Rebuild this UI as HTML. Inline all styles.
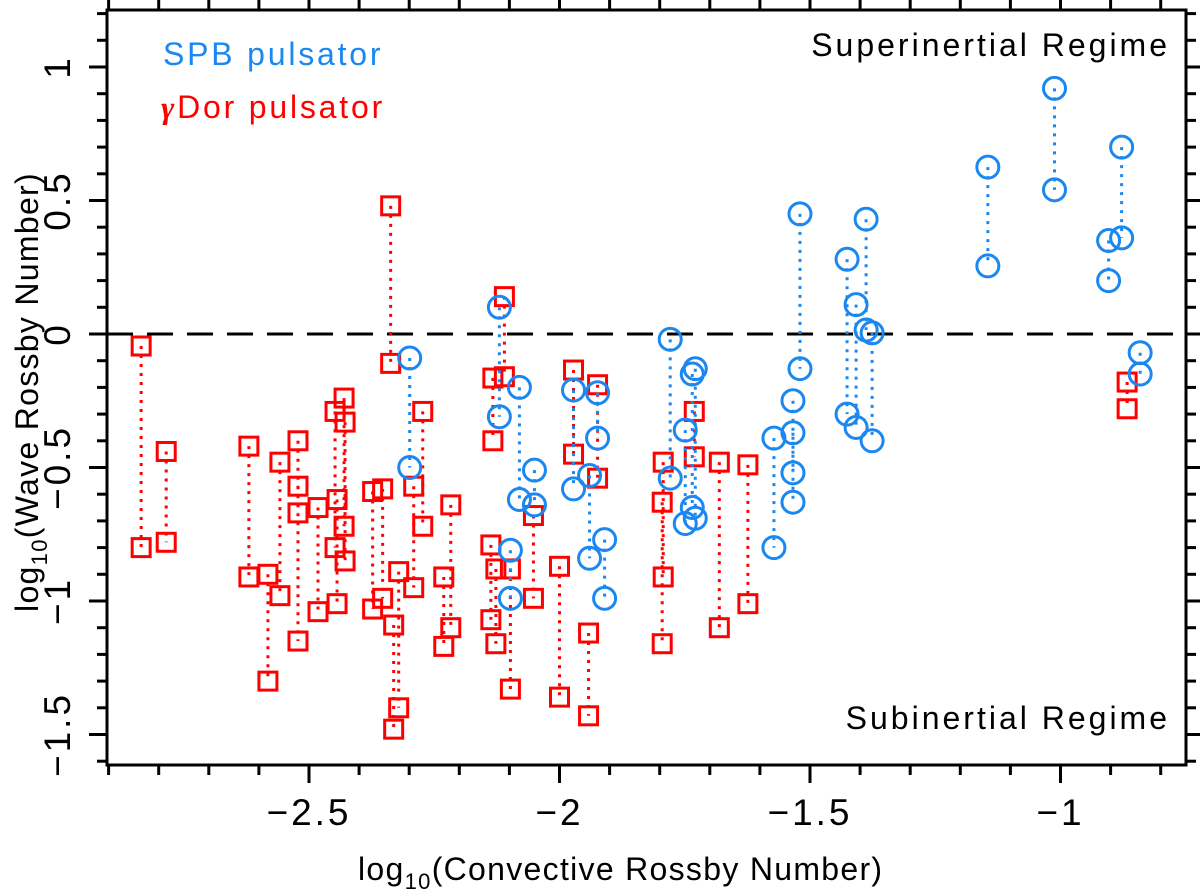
<!DOCTYPE html>
<html><head><meta charset="utf-8"><style>
html,body{margin:0;padding:0;background:#fff;}
svg{display:block;font-family:"Liberation Sans",sans-serif;}
</style></head><body>
<svg id="chart" width="1200" height="896" viewBox="0 0 1200 896"></svg>
<script>
// Data: each pair is x, yTop, yBottom (log10 values)
const redX  = [-2.835,-2.785,-2.620,-2.582,-2.558,-2.522,-2.522,-2.482,-2.448,-2.444,-2.430,-2.428,-2.373,-2.353,-2.337,-2.321,-2.331,-2.273,-2.291,-2.217,-2.231,-2.137,-2.133,-2.110,-2.127,-2.098,-2.052,-2.000,-1.972,-1.924,-1.942,-1.793,-1.795,-1.731,-1.681,-1.624,-0.867];
const redY1 = [-0.045,-0.44,-0.42,-0.90,-0.48,-0.40,-0.57,-0.65,-0.29,-0.62,-0.24,-0.33,-0.59,-0.58,0.48,-0.89,-1.09,-0.29,-0.57,-0.64,-0.91,-0.79,-0.165,0.14,-0.88,-0.88,-0.68,-0.87,-0.135,-0.19,-1.12,-0.48,-0.63,-0.29,-0.48,-0.49,-0.18];
const redY2 = [-0.80,-0.78,-0.91,-1.30,-0.98,-0.67,-1.15,-1.04,-0.80,-1.01,-0.72,-0.85,-1.03,-0.99,-0.11,-1.40,-1.48,-0.72,-0.95,-1.10,-1.17,-1.07,-0.40,-0.16,-1.16,-1.33,-0.99,-1.36,-0.45,-0.54,-1.43,-0.91,-1.16,-0.46,-1.10,-1.01,-0.28];
const blueX  = [-2.299,-2.120,-2.080,-2.050,-2.098,-1.972,-1.924,-1.940,-1.910,-1.779,-1.729,-1.735,-1.749,-1.572,-1.534,-1.534,-1.520,-1.426,-1.408,-1.388,-1.376,-1.145,-1.012,-0.878,-0.904,-0.841];
const blueY1 = [-0.09,0.10,-0.20,-0.51,-0.81,-0.21,-0.22,-0.53,-0.77,-0.02,-0.13,-0.15,-0.36,-0.39,-0.25,-0.37,0.45,0.28,0.11,0.43,0.004,0.625,0.92,0.70,0.35,-0.07];
const blueY2 = [-0.50,-0.31,-0.62,-0.64,-0.99,-0.58,-0.39,-0.84,-0.99,-0.54,-0.69,-0.65,-0.71,-0.80,-0.52,-0.63,-0.13,-0.30,-0.35,0.015,-0.40,0.255,0.54,0.36,0.20,-0.15];
const xTicks = [-2.5,-2,-1.5,-1];
const xTickLabels = ["\u22122.5","\u22122","\u22121.5","\u22121"];
const yTicks = [1,0.5,0,-0.5,-1,-1.5];
const yTickLabels = ["1","0.5","0","\u22120.5","\u22121","\u22121.5"];

const L=107,R=1186,T=10,B=765;
const X=v=>309+(v+2.5)*501;
const Y=v=>334-v*267;
const svg=document.getElementById('chart');
const NS='http://www.w3.org/2000/svg';
function mk(tag,attrs,parent){const e=document.createElementNS(NS,tag);for(const k in attrs)e.setAttribute(k,attrs[k]);(parent||svg).appendChild(e);return e;}

const zl=mk('line',{x1:L,x2:R,y1:Y(0),y2:Y(0),stroke:'#000','stroke-width':3,'stroke-dasharray':'26,14'});



const RED='#ff0000',BLUE='#1a88f0';
for(let i=0;i<redX.length;i++){
  const g=mk('g',{});
  
  
  const x=X(redX[i]);
  mk('line',{x1:x,x2:x,y1:Y(redY1[i]),y2:Y(redY2[i]),stroke:RED,'stroke-width':3,'stroke-dasharray':'3,6'},g);
  [redY1[i],redY2[i]].forEach(v=>{mk('rect',{x:x-9,y:Y(v)-9,width:18,height:18,fill:'none',stroke:RED,'stroke-width':3},g);});
}
for(let i=0;i<blueX.length;i++){
  const g=mk('g',{});
  
  
  const x=X(blueX[i]);
  mk('line',{x1:x,x2:x,y1:Y(blueY1[i]),y2:Y(blueY2[i]),stroke:BLUE,'stroke-width':3,'stroke-dasharray':'3,6'},g);
  [blueY1[i],blueY2[i]].forEach(v=>{mk('circle',{cx:x,cy:Y(v),r:11,fill:'none',stroke:BLUE,'stroke-width':3},g);});
}

const fr=mk('rect',{x:L,y:T,width:R-L,height:B-T,fill:'none',stroke:'#000','stroke-width':3});



const tg=mk('g',{stroke:'#000','stroke-width':3});


for(let k=-29;k<=-7;k++){
  const v=k/10,x=X(v);if(x<L+1||x>R-1)continue;
  const major=(k%5===0);const len=major?18:10;
  mk('line',{x1:x,x2:x,y1:B,y2:B+len},tg);
  mk('line',{x1:x,x2:x,y1:T,y2:T-len},tg);
}
for(let k=-16;k<=12;k++){
  const v=k/10,y=Y(v);if(y<T+1||y>B-1)continue;
  const major=(k%5===0);const len=major?18:10;
  mk('line',{x1:L,x2:L-len,y1:y,y2:y},tg);
  mk('line',{x1:R,x2:R+len,y1:y,y2:y},tg);
}
xTicks.forEach((v,i)=>{const t=mk('text',{x:X(v),y:825,'font-size':37,'letter-spacing':3,'text-anchor':'middle'});t.textContent=xTickLabels[i];
  
  });
yTicks.forEach((v,i)=>{const t=mk('text',{transform:'translate(70,'+Y(v)+') rotate(-90)','font-size':37,'letter-spacing':3,'text-anchor':'middle'});t.textContent=yTickLabels[i];
  
  });
</script>
<script>
(function(){
const svg=document.getElementById('chart');
svg.insertAdjacentHTML('beforeend',
'<text x="358" y="880" font-size="32" letter-spacing="1.3">log<tspan font-size="22" dy="9">10</tspan><tspan dy="-9">(Convective Rossby Number)</tspan></text>'+
'<text transform="translate(38,392) rotate(-90)" font-size="32" letter-spacing="1.3" text-anchor="middle">log<tspan font-size="22" dy="9">10</tspan><tspan dy="-9">(Wave Rossby Number)</tspan></text>'+
'<text x="163" y="65" font-size="32" letter-spacing="2.8" fill="#1a88f0">SPB pulsator</text>'+
'<text x="161" y="118" font-size="32" letter-spacing="2.8" fill="#ff0000"><tspan font-weight="bold" font-family="Liberation Serif, serif" font-style="italic">γ</tspan>Dor pulsator</text>'+
'<text x="1170" y="56" font-size="32" letter-spacing="3" text-anchor="end">Superinertial Regime</text>'+
'<text x="1170" y="729" font-size="32" letter-spacing="3" text-anchor="end">Subinertial Regime</text>');
})();
</script>
</body></html>
